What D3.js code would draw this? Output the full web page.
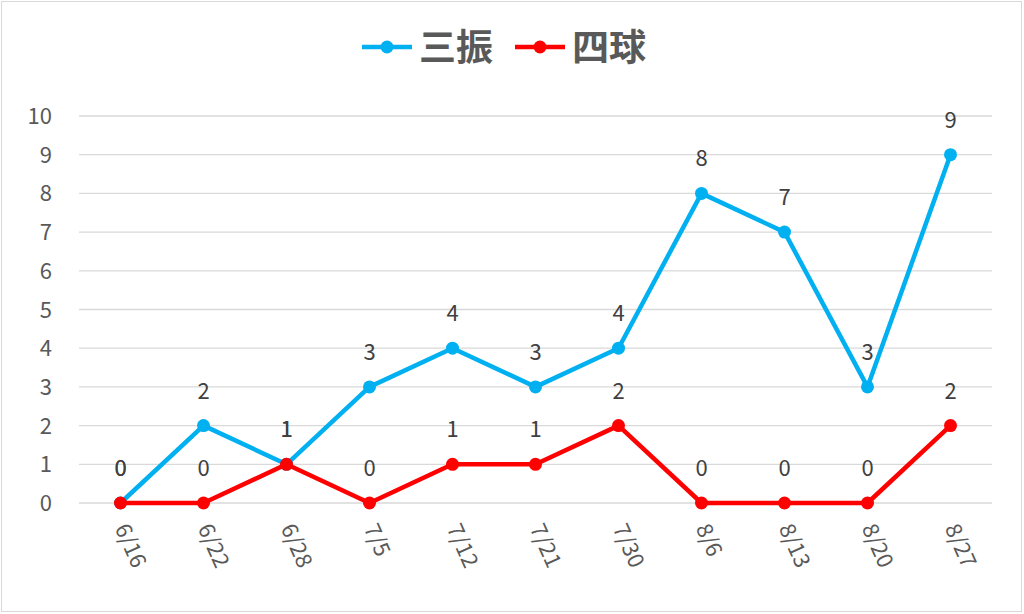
<!DOCTYPE html>
<html><head><meta charset="utf-8">
<script src="https://cdn.jsdelivr.net/npm/d3@7"></script>
<style>body{margin:0;background:#fff}text{font-family:"Noto Sans CJK JP","Noto Sans",sans-serif}</style>
</head><body>
<svg id="c" width="1024" height="614"></svg>
<script>
// データ
var dates = ["6/16","6/22","6/28","7/5","7/12","7/21","7/30","8/6","8/13","8/20","8/27"];
var sanshin = [0,2,1,3,4,3,4,8,7,3,9];
var shikyu = [0,0,1,0,1,1,2,0,0,0,2];
var yTicks = [0,1,2,3,4,5,6,7,8,9,10];

var svg = d3.select("#c");
svg.append("rect").attr("x",1.5).attr("y",1.5).attr("width",1020).attr("height",610)
  .attr("fill","#fff").attr("stroke","#d9d9d9");

var x = d3.scaleBand().domain(dates).range([79,992]);
var y = d3.scaleLinear().domain([0,10]).range([503,116]);
var cx = function(d){ return x(d)+x.bandwidth()/2; };

// グリッド
svg.selectAll("line.g").data(yTicks).enter().append("line")
  .attr("x1",79).attr("x2",992).attr("y1",d=>y(d)).attr("y2",d=>y(d))
  .attr("stroke","#d9d9d9").attr("stroke-width",1.3);

svg.selectAll("text.yt").data(yTicks).enter().append("text")
  .attr("x",52).attr("y",d=>y(d)+8).attr("text-anchor","end")
  .attr("font-size",22).attr("fill","#595959").text(d=>d);

svg.selectAll("text.xt").data(dates).enter().append("text")
  .attr("transform",d=>"translate("+(cx(d)-6)+",528) rotate(66)")
  .attr("font-size",22).attr("fill","#595959").text(d=>d);

function series(vals,color){
  var line = d3.line().x((d,i)=>cx(dates[i])).y(d=>y(d));
  svg.append("path").datum(vals).attr("d",line).attr("fill","none")
    .attr("stroke",color).attr("stroke-width",4.5).attr("stroke-linejoin","round");
  svg.selectAll(null).data(vals).enter().append("circle")
    .attr("cx",(d,i)=>cx(dates[i])).attr("cy",d=>y(d)).attr("r",6.5).attr("fill",color);
  svg.selectAll(null).data(vals).enter().append("text")
    .attr("x",(d,i)=>cx(dates[i])).attr("y",d=>y(d)-27).attr("text-anchor","middle")
    .attr("font-size",22).attr("fill","#404040").text(d=>d);
}
series(sanshin,"#00b0f0");
series(shikyu,"#ff0000");

// 凡例
var legend = [{n:"三振",c:"#00b0f0",x:362},{n:"四球",c:"#ff0000",x:515}];
legend.forEach(function(l){
  svg.append("line").attr("x1",l.x).attr("x2",l.x+50).attr("y1",47).attr("y2",47)
    .attr("stroke",l.c).attr("stroke-width",4.5);
  svg.append("circle").attr("cx",l.x+25).attr("cy",47).attr("r",6.5).attr("fill",l.c);
  svg.append("text").attr("x",l.x+57).attr("y",61).attr("font-size",37)
    .attr("font-weight","bold").attr("fill","#595959").text(l.n);
});
</script>
</body></html>
